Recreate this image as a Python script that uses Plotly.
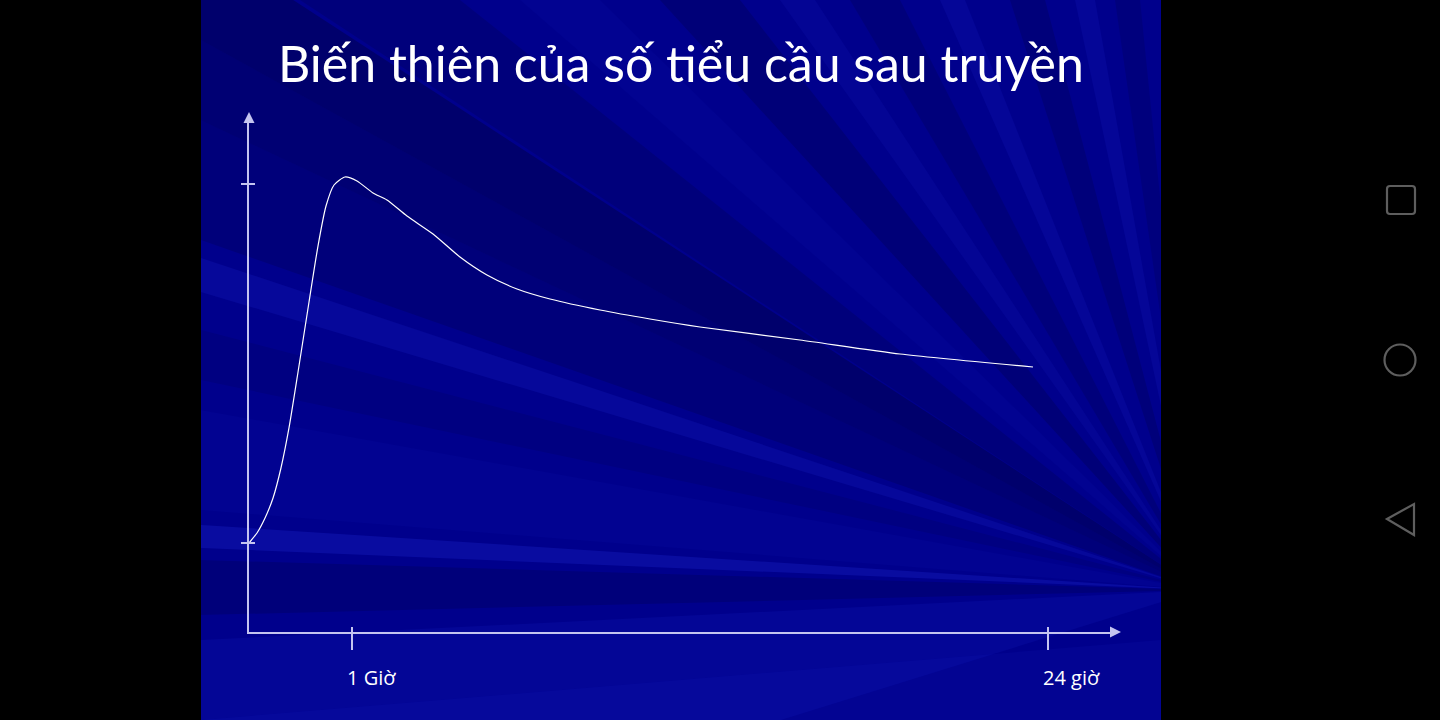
import plotly.graph_objects as go

# ---------------- data ----------------
title_text = "Biến thiên của số tiểu cầu sau truyền"
curve_x = [0.0, 0.092, 0.184, 0.276, 0.367, 0.459, 0.563, 0.689, 0.792, 0.884, 0.976, 1.102,
           1.240, 1.424, 1.584, 1.814, 2.113, 2.422, 2.732, 3.077, 3.456, 4.030, 4.604, 5.178,
           6.326, 7.474, 9.001]
curve_y = [1.715, 1.908, 2.197, 2.582, 3.160, 3.931, 5.010, 6.358, 7.437, 8.208, 8.613, 8.767,
           8.690, 8.459, 8.324, 8.015, 7.669, 7.225, 6.879, 6.609, 6.416, 6.204, 6.031, 5.877,
           5.626, 5.356, 5.106]
x_tick_vals = [1.183, 9.173]
x_tick_text = ["1 Giờ", "24 giờ"]
y_tick_vals = [1.715, 8.632]

W, H = 1440, 720
def px(x): return x / W
def py(y): return 1 - y / H

AXIS_COL = "#c4c4f0"
fig = go.Figure()

fig.add_trace(go.Scatter(x=curve_x, y=curve_y, mode="lines",
                         line=dict(color="white", width=1.2, shape="spline", smoothing=0.6),
                         hoverinfo="skip", showlegend=False))
fig.add_trace(go.Scatter(x=[None], y=[None], xaxis="x2", yaxis="y2", showlegend=False))

# ---------------- background (slide with soft rays) ----------------
shapes = []
SL, SR = 201, 1161
shapes.append(dict(type="rect", xref="paper", yref="paper", x0=px(SL), x1=px(SR), y0=0, y1=1,
                   fillcolor="#00008c", line_width=0, layer="below"))
C = (1200, 590)
def ext(p, k=5):
    return (C[0] + k * (p[0] - C[0]), C[1] + k * (p[1] - C[1]))
DK = "rgba(0,0,50,{})"
LT = "rgba(30,40,210,{})"
rays = [
    ((201, -60), (201, 40), DK.format(0.35)),
    ((201, 40), (201, 120), DK.format(0.28)),
    ((201, 120), (201, 240), DK.format(0.2)),
    ((201, 258), (201, 292), LT.format(0.2)),
    ((201, 330), (201, 380), DK.format(0.12)),
    ((201, 410), (201, 510), LT.format(0.08)),
    ((201, 525), (201, 548), LT.format(0.3)),
    ((201, 560), (201, 615), DK.format(0.2)),
    ((201, 640), (201, 900), LT.format(0.14)),
    ((300, 0), (460, 0), DK.format(0.18)),
    ((520, 0), (600, 0), LT.format(0.08)),
    ((660, 0), (740, 0), DK.format(0.22)),
    ((780, 0), (815, 0), LT.format(0.13)),
    ((850, 0), (900, 0), DK.format(0.18)),
    ((940, 0), (965, 0), LT.format(0.16)),
    ((1010, 0), (1045, 0), DK.format(0.2)),
    ((1075, 0), (1095, 0), LT.format(0.16)),
    ((1115, 0), (1140, 0), DK.format(0.16)),
]
for p1, p2, col in rays:
    a, b = ext(p1), ext(p2)
    path = f"M {px(C[0])},{py(C[1])} L {px(a[0])},{py(a[1])} L {px(b[0])},{py(b[1])} Z"
    shapes.append(dict(type="path", xref="paper", yref="paper", path=path,
                       fillcolor=col, line_width=0, layer="below"))
# lighter band in the lower right
shapes.append(dict(type="path", xref="paper", yref="paper",
                   path=f"M {px(1161)},{py(640)} L {px(201)},{py(720)} L {px(1161)},{py(720)} Z",
                   fillcolor=LT.format(0.1), line_width=0, layer="below"))
# black masks outside the slide
shapes.append(dict(type="rect", xref="paper", yref="paper", x0=-0.1, x1=px(SL), y0=-0.1, y1=1.1,
                   fillcolor="black", line_width=0, layer="below"))
shapes.append(dict(type="rect", xref="paper", yref="paper", x0=px(SR), x1=1.1, y0=-0.1, y1=1.1,
                   fillcolor="black", line_width=0, layer="below"))
# android navigation buttons
NAV = "#5e5e5e"
shapes.append(dict(type="path", xref="paper", yref="paper",
                   path=(f"M {px(1390)},{py(186)} L {px(1412)},{py(186)} Q {px(1415)},{py(186)} {px(1415)},{py(189)} "
                         f"L {px(1415)},{py(211)} Q {px(1415)},{py(214)} {px(1412)},{py(214)} "
                         f"L {px(1390)},{py(214)} Q {px(1387)},{py(214)} {px(1387)},{py(211)} "
                         f"L {px(1387)},{py(189)} Q {px(1387)},{py(186)} {px(1390)},{py(186)} Z"),
                   line=dict(color=NAV, width=2.2)))
shapes.append(dict(type="circle", xref="paper", yref="paper", x0=px(1384.5), x1=px(1415.5),
                   y0=py(375.5), y1=py(344.5), line=dict(color=NAV, width=2.2)))
shapes.append(dict(type="path", xref="paper", yref="paper",
                   path=f"M {px(1387)},{py(519)} L {px(1414)},{py(504)} L {px(1414)},{py(535)} Z",
                   line=dict(color=NAV, width=2.2)))

# ---------------- annotations ----------------
ann = []
ann.append(dict(text=title_text, xref="paper", yref="paper", x=px(681), y=py(63),
                xanchor="center", yanchor="middle", showarrow=False,
                font=dict(family="Lato", size=50, color="white")))
for v, t in zip(x_tick_vals, x_tick_text):
    ann.append(dict(text=t, xref="x", yref="paper", x=v, y=py(677), xshift=-7,
                    xanchor="left", yanchor="middle", showarrow=False,
                    font=dict(family="Open Sans", size=20, color="white")))
# axis arrowheads
ann.append(dict(text="", xref="paper", yref="paper", x=px(1121), y=py(632), ax=-12, ay=0,
                showarrow=True, arrowhead=2, arrowsize=1.1, arrowwidth=2, arrowcolor=AXIS_COL))
ann.append(dict(text="", xref="paper", yref="paper", x=px(249), y=py(112), ax=0, ay=12,
                showarrow=True, arrowhead=2, arrowsize=1.1, arrowwidth=2, arrowcolor=AXIS_COL))

X0, X1 = 249, 1112
Y0, Y1 = 632, 121
xrange_ = [0, (X1 - X0) / 87.1]
yrange_ = [0, (Y0 - Y1) / 51.9]
common = dict(showgrid=False, zeroline=False, fixedrange=True)
fig.update_layout(
    width=W, height=H, margin=dict(l=0, r=0, t=0, b=0),
    paper_bgcolor="black", plot_bgcolor="rgba(0,0,0,0)",
    shapes=shapes, annotations=ann, showlegend=False,
    xaxis=dict(domain=[px(X0), px(X1)], range=xrange_, showline=True, linecolor=AXIS_COL, linewidth=2,
               ticks="outside", ticklen=16, tickwidth=2, tickcolor=AXIS_COL,
               tickvals=x_tick_vals, showticklabels=False, anchor="y", **common),
    yaxis=dict(domain=[py(Y0), py(Y1)], range=yrange_, showline=True, linecolor=AXIS_COL, linewidth=2,
               ticks="outside", ticklen=6, tickwidth=2, tickcolor=AXIS_COL,
               tickvals=y_tick_vals, showticklabels=False, anchor="x", **common),
    xaxis2=dict(domain=[px(X0), px(X1)], range=xrange_, overlaying="x", anchor="y2", side="bottom",
                ticks="inside", ticklen=5, tickwidth=2, tickcolor=AXIS_COL, tickvals=x_tick_vals,
                showticklabels=False, showline=False, **common),
    yaxis2=dict(domain=[py(Y0), py(Y1)], range=yrange_, overlaying="y", anchor="x2", side="left",
                ticks="inside", ticklen=6, tickwidth=2, tickcolor=AXIS_COL, tickvals=y_tick_vals,
                showticklabels=False, showline=False, **common),
)
fig.write_html("out.html", config={"displayModeBar": False})
